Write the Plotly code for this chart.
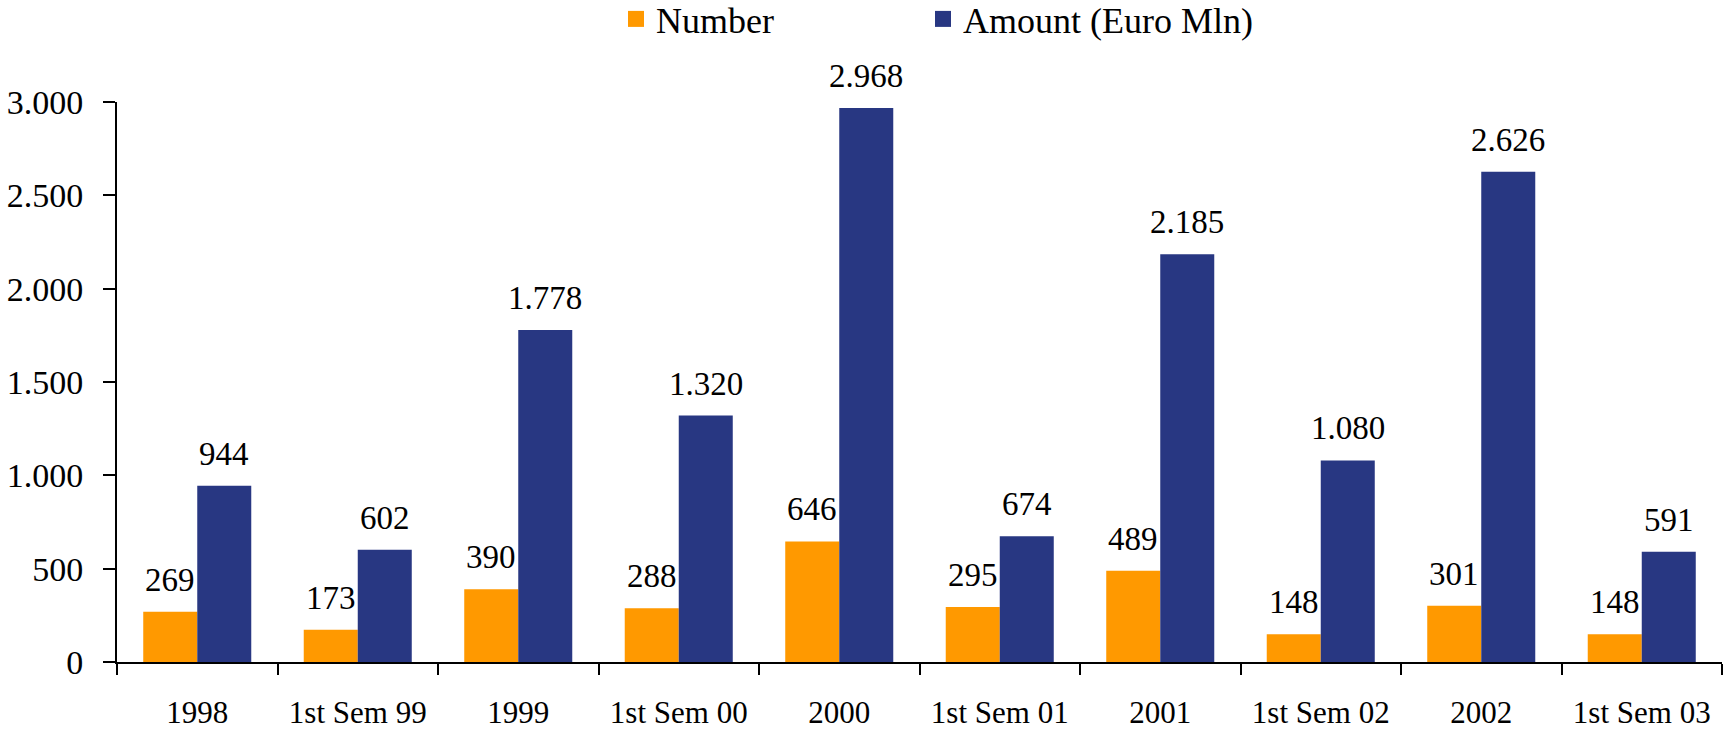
import plotly.graph_objects as go

categories = ["1998", "1st Sem 99", "1999", "1st Sem 00", "2000", "1st Sem 01",
              "2001", "1st Sem 02", "2002", "1st Sem 03"]
number_vals = [269, 173, 390, 288, 646, 295, 489, 148, 301, 148]
amount_vals = [944, 602, 1778, 1320, 2968, 674, 2185, 1080, 2626, 591]
y_ticks = [0, 500, 1000, 1500, 2000, 2500, 3000]

FONT = "Liberation Serif, Times New Roman, serif"
ORANGE = "#FF9900"
BLUE = "#283782"

W, H = 1724, 729
ML, MR, MT, MB = 117, 2, 102, 67
BARGAP = 0.327
cat_px = (W - ML - MR) / len(categories)
bar_px = cat_px * (1 - BARGAP) / 2

fig = go.Figure()
fig.add_trace(go.Bar(name="Number", x=categories, y=number_vals,
                     marker=dict(color=ORANGE, line=dict(width=0)),
                     showlegend=False))
fig.add_trace(go.Bar(name="Amount (Euro Mln)", x=categories, y=amount_vals,
                     marker=dict(color=BLUE, line=dict(width=0)),
                     showlegend=False))
# legend entries (larger square swatches)
fig.add_trace(go.Scatter(name="Number", x=[None], y=[None], mode="markers",
                         marker=dict(symbol="square", size=24, color=ORANGE),
                         legendwidth=262, hoverinfo="skip"))
fig.add_trace(go.Scatter(name="Amount (Euro Mln)", x=[None], y=[None], mode="markers",
                         marker=dict(symbol="square", size=24, color=BLUE),
                         legendwidth=330, hoverinfo="skip"))

def fmt(v):
    return f"{v:,}".replace(",", ".")

annotations = []
for vals, shift in ((number_vals, -bar_px / 2), (amount_vals, bar_px / 2)):
    for i, v in enumerate(vals):
        annotations.append(dict(x=i, y=v, xref="x", yref="y", text=fmt(v),
                                showarrow=False, xanchor="center", yanchor="bottom",
                                xshift=shift, yshift=12,
                                font=dict(family=FONT, size=33, color="black")))

fig.update_layout(
    width=W, height=H,
    margin=dict(l=ML, r=MR, t=MT, b=MB, autoexpand=False),
    paper_bgcolor="white", plot_bgcolor="white",
    separators=",.",
    barmode="group", bargap=BARGAP, bargroupgap=0,
    font=dict(family=FONT, color="black"),
    annotations=annotations,
    legend=dict(orientation="h", xref="container", yref="paper",
                x=616 / W, y=1 + (MT + 11) / (H - MT - MB), xanchor="left", yanchor="top",
                font=dict(family=FONT, size=36, color="black"),
                bgcolor="rgba(0,0,0,0)"),
    showlegend=True,
)
fig.update_xaxes(type="category", categoryorder="array", categoryarray=categories,
                 range=[-0.5, len(categories) - 0.5],
                 showline=True, linecolor="black", linewidth=2,
                 ticks="outside", ticklen=11, tickwidth=1.5, tickcolor="black",
                 tickson="boundaries", showgrid=False, ticklabelstandoff=22,
                 automargin=False,
                 tickfont=dict(family=FONT, size=31, color="black"))
fig.update_yaxes(range=[0, 3000], tickvals=y_ticks, tickformat=",",
                 showline=True, linecolor="black", linewidth=2,
                 ticks="outside", ticklen=12, tickwidth=1.5, tickcolor="black",
                 showgrid=False, zeroline=False, ticklabelstandoff=13,
                 automargin=False,
                 tickfont=dict(family=FONT, size=34, color="black"))

# remove the default page margin so the figure fills the window exactly
fig.write_html("out.html", config={"displayModeBar": False},
               post_script="document.body.style.margin='0';")
